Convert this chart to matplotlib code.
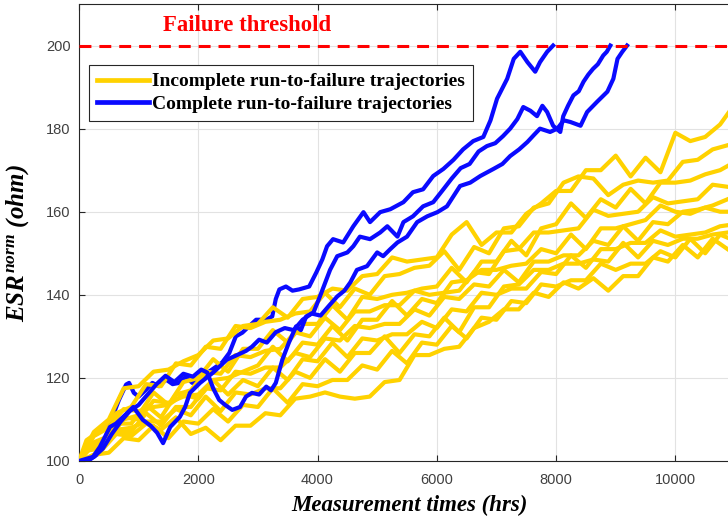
import numpy as np
import matplotlib
matplotlib.use("Agg")
import matplotlib.pyplot as plt

plt.rcParams.update({
    "font.family": "Liberation Sans",
    "mathtext.fontset": "custom",
    "mathtext.it": "Liberation Serif:italic:bold",
    "mathtext.rm": "Liberation Serif:italic:bold",
    "mathtext.bf": "Liberation Serif:italic:bold",
})

YELLOW = "#ffd200"
BLUE = "#0a0aff"
TXT = "#262626"
TICK_TXT = "#404040"
SERIF = "Liberation Serif"

THRESHOLD = 200

# incomplete run-to-failure trajectories; two measurement schedules of 250 hrs,
# the second one offset by half a step
hours_even = np.arange(0, 11001, 250)
hours_odd = np.concatenate([[0], np.arange(125, 11001, 250)])
inc_1 = [100, 107, 110, 117.5, 118, 121.5, 122, 124, 125.5, 129, 129.5, 132.5,
         133, 137, 134.5, 139, 139.5, 141.5, 141, 144.5, 145, 149, 148, 148.5,
         149, 154.5, 157.5, 152, 155, 155, 159.5, 162, 165, 165, 170, 170,
         173.5, 168.5, 173, 169.5, 179, 177, 178, 181, 186]
inc_2 = [100, 105, 107.5, 111.5, 113, 118.5, 118, 123.5, 123, 127.5, 127, 132.5,
         132, 133.5, 134, 135.5, 136, 140.5, 137, 141.5, 140, 144.5, 145, 146.5,
         147, 150.5, 146, 151.5, 150, 156, 156.5, 161, 162, 167, 168.5, 168,
         164, 166.5, 167.5, 167, 167.5, 172, 172.5, 175, 176]
inc_3 = [100, 104, 105.5, 110, 111, 116.5, 113.5, 119, 120, 124.5, 121.5, 127,
         127, 131.5, 128.5, 133, 133, 137.5, 134, 139.5, 139, 140, 140.5, 141.5,
         142, 146.5, 143, 148, 148, 153, 149.5, 156, 157, 162, 158.5, 163,
         161, 165.5, 162, 167, 167, 167.5, 169, 170, 172]
inc_4 = [100, 103.5, 104, 109, 109, 113.5, 110.5, 116, 117, 121.5, 121, 125.5,
         125, 126.5, 127, 131, 130, 134.5, 131.5, 136, 136, 137.5, 137.5, 141,
         140, 140.5, 141, 145.5, 145, 150.5, 151, 155, 155, 155.5, 156, 160.5,
         159, 159.5, 160, 163.5, 162, 162.5, 163, 166.5, 166]
inc_5 = [100, 106, 108, 112.5, 112, 113, 113.5, 116, 115, 119.5, 120, 121.5,
         123, 127.5, 124, 128.5, 128, 132.5, 129, 134, 134, 138.5, 135, 139,
         138, 143, 143.5, 146, 146, 147, 147.5, 151, 150, 154.5, 151, 156,
         156, 157, 158, 161.5, 160, 159.5, 161, 160, 160]
inc_6 = [100, 103, 103.5, 107, 107, 111.5, 108.5, 113, 113, 117.5, 117, 121.5,
         121, 122.5, 122.5, 126, 125, 129.5, 129, 132.5, 132, 133, 133, 136.5,
         135, 139.5, 139, 142.5, 142, 146, 143, 148, 148, 149.5, 149.5, 153,
         152, 156.5, 153, 157.5, 157, 160, 160.5, 161.5, 163]
inc_7 = [100, 104.5, 106, 110.5, 110, 114.5, 114, 115.5, 116, 119.5, 116, 119.5,
         118, 122.5, 119.5, 124.5, 124, 128.5, 125, 129.5, 129, 130.5, 130.5, 133.5,
         132, 136.5, 136, 140.5, 140, 141.5, 141.5, 145.5, 145, 149.5, 146.5, 151,
         151, 152.5, 152.5, 155.5, 154, 154.5, 155, 156.5, 157]
inc_8 = [100, 102.5, 103, 107.5, 108, 109.5, 109.5, 112.5, 111, 115.5, 112, 116.5,
         116, 117.5, 117.5, 121.5, 120, 124.5, 121.5, 126, 126, 130, 126, 130.5,
         130, 134.5, 131, 137, 137, 142, 142.5, 146, 146, 147.5, 147.5, 148.5,
         148, 152.5, 149, 153, 152, 153.5, 153.5, 154.5, 155]
inc_9 = [100, 101.5, 102, 105.5, 105, 108.5, 105.5, 109.5, 109, 112.5, 109.5, 113.5,
         113, 117.5, 114, 118.5, 118, 119.5, 119.5, 123, 122, 126.5, 123.5, 128.5,
         128, 132.5, 129.5, 134.5, 134, 138.5, 138, 142.5, 142, 143.5, 143.5, 147.5,
         146, 147.5, 147.5, 150.5, 149, 153.5, 150, 154.5, 153]
inc_10 = [100, 100.5, 102.5, 106.5, 106, 109, 107.5, 110.5, 106.5, 108, 105, 108.5,
          108.5, 111.5, 111, 115, 115.5, 116.5, 115.5, 115, 115.5, 119, 119.5, 125.5,
          125.5, 127, 127.5, 132, 133.5, 136.5, 136.5, 140.5, 139.5, 143, 141.5, 144,
          141, 144.5, 144.5, 149, 148, 152, 149, 153.5, 151]
incomplete = [(hours_even, inc_1), (hours_odd, inc_2), (hours_even, inc_3),
              (hours_odd, inc_4), (hours_even, inc_5), (hours_odd, inc_6),
              (hours_even, inc_7), (hours_odd, inc_8), (hours_even, inc_9),
              (hours_odd, inc_10)]

# complete run-to-failure trajectories (reach the threshold)
comp_a_hrs = [150, 336, 450, 560, 670, 790, 840, 920, 1000, 1120, 1230, 1340,
              1460, 1570, 1680, 1790, 1900, 2060, 2230, 2400, 2520, 2630, 2740, 2850,
              2970, 3140, 3240, 3300, 3360, 3470, 3580, 3690, 3860, 3980, 4080, 4160,
              4260, 4430, 4600, 4770, 4880, 5050, 5220, 5440, 5600, 5770, 5940, 6110,
              6280, 6440, 6610, 6780, 6900, 7010, 7180, 7290, 7400, 7520, 7650, 7730,
              7850, 7950]
comp_a_esr = [100, 101.9, 105.8, 110.6, 114.7, 118.4, 118.8, 116.4, 115.5, 117.1, 118.8, 118,
              119.6, 118.5, 118.8, 120.3, 118.8, 120.3, 122, 123.7, 126, 130, 130.9, 132.4,
              134, 134, 134.8, 139, 141.3, 142, 141, 141.3, 142, 145.4, 148.5, 151.7,
              153.4, 152.6, 156.5, 159.9, 157.5, 159.9, 160.6, 162.3, 164.7, 165.4, 168.6, 170.3,
              172.5, 175, 177, 178, 182, 187.2, 192, 196.8, 198.5, 196, 193.7, 196,
              198.5, 200]
comp_b_hrs = [100, 250, 400, 550, 700, 850, 1000, 1150, 1300, 1450, 1600, 1750,
              1910, 2050, 2150, 2250, 2350, 2450, 2570, 2700, 2800, 2900, 3020, 3140,
              3220, 3300, 3410, 3520, 3640, 3720, 3810, 3930, 4040, 4210, 4330, 4500,
              4600, 4710, 4880, 5050, 5170, 5340, 5440, 5600, 5770, 5940, 6110, 6250,
              6400, 6550, 6700, 6840, 6980, 7110, 7230, 7350, 7450, 7570, 7680, 7770,
              7850, 7950, 8070, 8120, 8200, 8290, 8380, 8460, 8540, 8620, 8700, 8790,
              8850, 8910]
comp_b_esr = [100, 101, 103, 106.5, 109.5, 112, 113.5, 116, 118.5, 120.5, 119, 121,
              120.3, 122, 121.3, 117.5, 114.7, 113.5, 112.3, 113, 115.5, 116.4, 116, 117.9,
              117, 118.8, 124.4, 128.5, 132.4, 131.5, 134.8, 135.7, 139.6, 146, 149.3, 150.2,
              151.7, 154, 153.4, 155, 156.5, 154, 157.5, 158.9, 161.3, 162.3, 165.4, 168,
              170.5, 171.5, 174.5, 175.8, 176.5, 178.2, 180, 182.3, 185.2, 184.3, 183, 185.5,
              184, 180.7, 179.2, 183, 185.5, 188, 189, 191.3, 193, 194.4, 195.5, 197.6,
              198.5, 200]
comp_c_hrs = [0, 235, 350, 520, 620, 740, 910, 1070, 1200, 1310, 1410, 1530,
              1690, 1780, 1860, 2030, 2250, 2480, 2650, 2800, 2900, 3020, 3150, 3300,
              3450, 3600, 3750, 3900, 4050, 4200, 4330, 4450, 4550, 4660, 4830, 5000,
              5100, 5220, 5340, 5500, 5670, 5840, 6010, 6170, 6390, 6560, 6730, 6950,
              7100, 7230, 7380, 7520, 7630, 7730, 7900, 8020, 8130, 8240, 8410, 8520,
              8690, 8860, 8960, 9030, 9110, 9190]
comp_c_esr = [100, 101, 103.4, 108.2, 109, 110.6, 113, 109.9, 108.5, 106.8, 104.3, 108.2,
              110.6, 113, 116.4, 118.8, 121.3, 124.4, 125.5, 126.5, 127.5, 129.2, 128.5, 131,
              132, 131.5, 134, 135.5, 135, 137.5, 139.6, 141, 143, 146, 146.9, 150.2,
              149.3, 151, 152.6, 154, 157.5, 158.9, 159.9, 161.3, 166.2, 167, 168.6, 170.3,
              171.5, 173.4, 175, 176.8, 178.5, 180, 179.2, 180, 182, 181.6, 180.7, 184,
              186.5, 188.9, 192, 196.8, 198.5, 200]

fig = plt.figure(figsize=(7.28, 5.21), dpi=100)
ax = fig.add_axes([79 / 728, 60 / 521, 656 / 728, 457 / 521])

lw = 3.0
ax.plot(comp_a_hrs, comp_a_esr, color=BLUE, lw=lw, zorder=2)
for k, (hrs, esr) in enumerate(incomplete):
    ax.plot(hrs, esr, color=YELLOW, lw=lw, zorder=3,
            label="Incomplete run-to-failure trajectories" if k == 0 else None)
ax.plot(comp_b_hrs, comp_b_esr, color=BLUE, lw=lw, zorder=4,
        label="Complete run-to-failure trajectories")
ax.plot(comp_c_hrs, comp_c_esr, color=BLUE, lw=lw, zorder=4)

ax.axhline(THRESHOLD, color="#ff0000", lw=2.2, dashes=(3.9, 2.6), zorder=5)
ax.text(2810, 204.8, "Failure threshold", color="#ff0000", fontfamily=SERIF,
        fontweight="bold", fontsize=16.4, ha="center", va="center")

ax.set_xlim(0, 11000)
ax.set_ylim(100, 210)
ax.set_xticks(np.arange(0, 10001, 2000))
ax.set_yticks(np.arange(100, 201, 20))
ax.tick_params(direction="in", length=4, width=0.8, top=True, right=True,
               colors=TXT, labelcolor=TICK_TXT, labelsize=10.5)
ax.tick_params(axis="x", pad=9)
ax.tick_params(axis="y", pad=6)
ax.grid(True, color="#e2e2e2", lw=0.8)
ax.set_axisbelow(True)
for sp in ax.spines.values():
    sp.set_color(TXT)
    sp.set_linewidth(0.8)

leg = ax.legend(loc="upper left", bbox_to_anchor=(0.0152, 0.8665), borderaxespad=0,
                prop={"family": SERIF, "weight": "bold", "size": 14},
                fancybox=False, edgecolor=TXT, framealpha=1, handlelength=2.7,
                handletextpad=0.15, labelspacing=0.25, borderpad=0.4)
leg.get_frame().set_linewidth(0.8)
for h in leg.legend_handles:
    h.set_linewidth(3.4)

fig.text(409 / 728, 1 - 505 / 521, "Measurement times (hrs)", fontfamily=SERIF,
         fontstyle="italic", fontweight="bold", fontsize=16.5, ha="center", va="center")
fig.text(18 / 728, 1 - 243 / 521, r"$ESR^{norm}$ (ohm)", fontfamily=SERIF,
         fontstyle="italic", fontweight="bold", fontsize=18, rotation=90,
         ha="center", va="center")

fig.savefig("out.png", dpi=100)
